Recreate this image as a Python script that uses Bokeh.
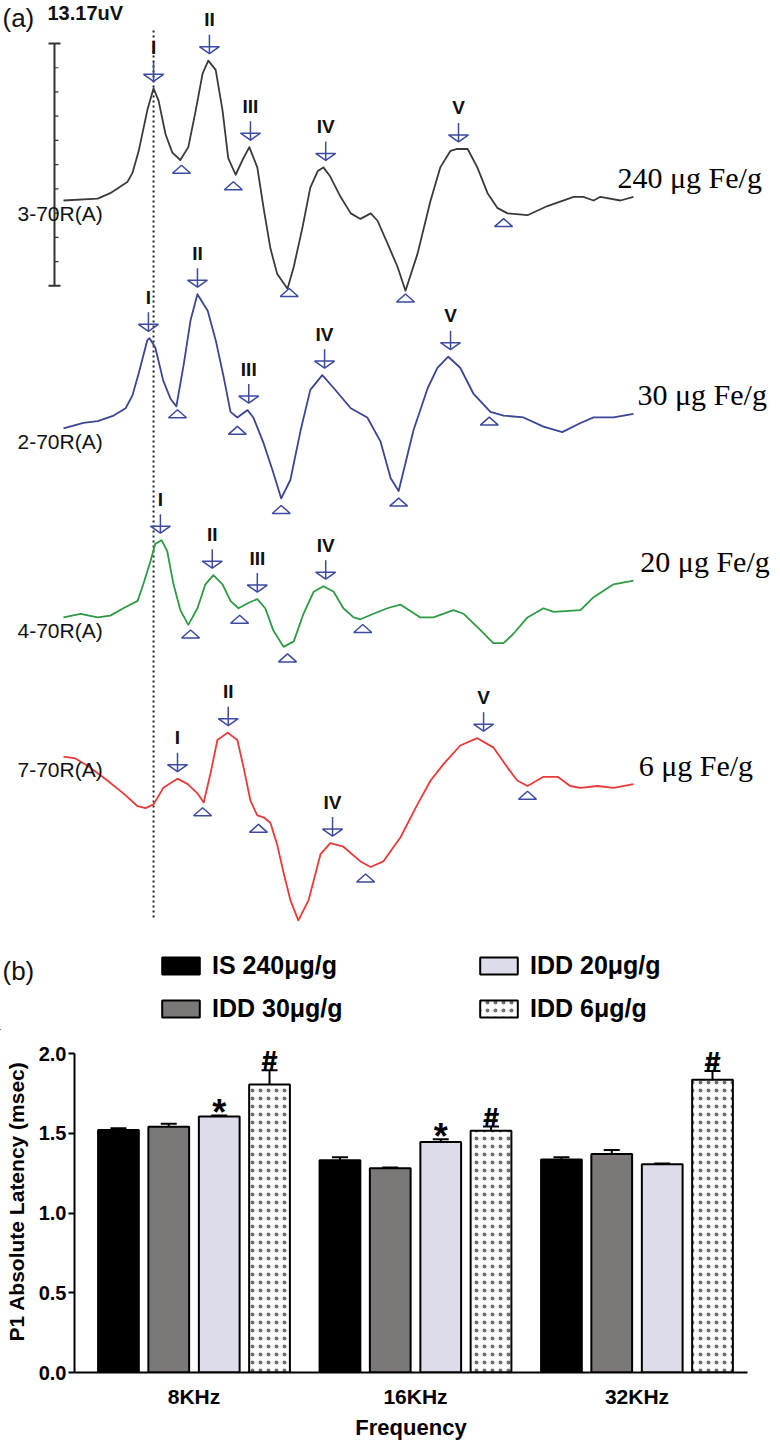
from bokeh.plotting import figure
from bokeh.models import Range1d, Legend, LegendItem, FixedTicker, NumeralTickFormatter
from bokeh.core.properties import value
from bokeh.embed import file_html
from bokeh.resources import INLINE

SANS = "Liberation Sans"
SERIF = "Liberation Serif"

# ---------------- Panel (a): ABR waveforms (time in ms, amplitude in uV) ----------------
t_240 = [0, 0.60, 0.82, 1.12, 1.21, 1.32, 1.47, 1.58, 1.67, 1.79, 1.91, 2.05, 2.19, 2.32, 2.44, 2.54,
         2.67, 2.79, 2.89, 3.02, 3.14, 3.26, 3.40, 3.51, 3.63, 3.75, 3.93, 4.04, 4.19, 4.33, 4.46, 4.56,
         4.68, 4.86, 5.04, 5.21, 5.39, 5.51, 5.68, 5.86, 6.00, 6.21, 6.44, 6.61, 6.79, 6.91, 7.09, 7.26,
         7.44, 7.61, 7.79, 8.14, 8.49, 8.95, 9.12, 9.30, 9.42, 9.77, 10.00]
a_240 = [0, 0.1, 0.4, 1.0, 1.5, 2.7, 4.9, 6.1, 5.4, 3.6, 2.6, 2.2, 2.9, 4.9, 6.9, 7.6,
         7.1, 4.9, 2.3, 1.4, 2.2, 2.9, 1.8, -0.4, -2.6, -4.0, -4.8, -3.6, -1.5, 0.7, 1.6, 1.8,
         1.3, 0.2, -0.7, -1.0, -0.7, -1.1, -2.3, -3.6, -4.9, -2.9, 0, 1.8, 2.7, 2.8, 2.8, 1.8,
         0.4, -0.4, -0.7, -0.8, -0.3, 0.2, 0.2, 0, 0.2, 0, 0.2]

t_30 = [0, 0.35, 0.60, 0.88, 1.09, 1.21, 1.32, 1.47, 1.51, 1.61, 1.75, 1.88, 1.98, 2.11, 2.23, 2.35,
        2.53, 2.67, 2.81, 2.93, 3.05, 3.23, 3.33, 3.51, 3.67, 3.82, 3.98, 4.16, 4.33, 4.54, 4.74, 5.04,
        5.33, 5.56, 5.74, 5.88, 6.14, 6.39, 6.56, 6.75, 6.96, 7.19, 7.49, 7.72, 8.07, 8.42, 8.75, 9.07,
        9.30, 9.65, 10.00]
a_30 = [0, 0.3, 0.4, 0.7, 1.1, 1.8, 3.0, 4.8, 4.9, 4.4, 2.6, 1.6, 1.2, 3.5, 5.9, 7.3,
        6.4, 4.8, 2.8, 0.9, 0.6, 1.0, 0.6, -0.8, -2.3, -3.8, -2.8, -0.1, 2.1, 2.9, 2.2, 1.1,
        0.6, -0.7, -2.7, -3.4, -0.1, 2.2, 3.3, 3.9, 3.3, 1.9, 0.9, 0.7, 0.6, 0.1, -0.2, 0.3,
        0.6, 0.6, 0.8]

t_20 = [0, 0.30, 0.60, 0.82, 1.05, 1.30, 1.40, 1.53, 1.61, 1.72, 1.82, 1.93, 2.05, 2.19, 2.35, 2.49,
        2.63, 2.79, 2.93, 3.07, 3.25, 3.40, 3.54, 3.68, 3.86, 4.04, 4.21, 4.39, 4.56, 4.74, 4.91, 5.09,
        5.21, 5.44, 5.68, 5.91, 6.26, 6.49, 6.84, 7.02, 7.32, 7.54, 7.72, 7.89, 8.14, 8.42, 8.60, 9.07,
        9.30, 9.65, 10.00]
a_20 = [0, 0.2, 0, 0.1, 0.5, 0.9, 1.8, 3.1, 4.0, 4.2, 3.6, 1.8, 0.4, -0.4, 0.5, 1.8,
        2.3, 1.8, 0.9, 0.5, 0.8, 1.0, 0.5, -0.7, -1.6, -1.3, 0.2, 1.4, 1.7, 1.4, 0.5, 0,
        -0.1, 0.2, 0.5, 0.7, 0, 0, 0.4, 0.2, -0.7, -1.4, -1.4, -0.9, 0, 0.5, 0.3, 0.4,
        1.1, 1.8, 2.0]

t_6 = [0, 0.21, 0.47, 0.77, 1.05, 1.30, 1.44, 1.58, 1.75, 2.00, 2.18, 2.35, 2.46, 2.58, 2.70, 2.88,
       3.05, 3.16, 3.28, 3.40, 3.51, 3.63, 3.75, 3.86, 3.98, 4.12, 4.30, 4.51, 4.68, 4.91, 5.21, 5.39,
       5.61, 5.91, 6.21, 6.44, 6.67, 6.96, 7.26, 7.54, 7.79, 7.96, 8.14, 8.42, 8.67, 8.89, 9.07, 9.37,
       9.65, 10.00]
a_6 = [0, -0.1, -0.6, -1.3, -2.0, -2.7, -2.8, -2.6, -1.7, -1.2, -1.5, -2.0, -2.5, -0.9, 0.9, 1.3,
       0.9, -0.6, -2.4, -3.2, -3.3, -3.6, -4.8, -6.3, -7.8, -8.9, -7.8, -5.3, -4.7, -4.9, -5.7, -6.0,
       -5.7, -4.4, -2.6, -1.3, -0.4, 0.6, 1.0, 0.5, -0.6, -1.3, -1.6, -1.1, -1.1, -1.6, -1.7, -1.6,
       -1.7, -1.5]

# Peaks (arrow + roman numeral)
peak_labels_240 = ["I", "II", "III", "IV", "V"]
peak_t_240 = [1.58, 2.56, 3.28, 4.60, 6.93]
peak_a_240 = [6.1, 7.6, 2.9, 1.8, 2.8]
peak_labels_30 = ["I", "II", "III", "IV", "V"]
peak_t_30 = [1.49, 2.35, 3.25, 4.58, 6.79]
peak_a_30 = [4.9, 7.3, 1.0, 2.9, 3.9]
peak_labels_20 = ["I", "II", "III", "IV"]
peak_t_20 = [1.70, 2.61, 3.40, 4.60]
peak_a_20 = [4.2, 2.3, 1.0, 1.7]
peak_labels_6 = ["I", "II", "IV", "V"]
peak_t_6 = [2.00, 2.89, 4.72, 7.37]
peak_a_6 = [-1.2, 1.3, -4.7, 1.0]

# Troughs (open triangle markers)
trough_t_240 = [2.07, 2.98, 3.96, 6.00, 7.72]
trough_a_240 = [1.7, 0.8, -5.0, -5.3, -1.2]
trough_t_30 = [2.00, 3.05, 3.82, 5.88, 7.47]
trough_a_30 = [0.8, -0.1, -4.4, -4.0, 0.4]
trough_t_20 = [2.23, 3.09, 3.93, 5.25]
trough_a_20 = [-0.9, -0.1, -2.2, -0.6]
trough_t_6 = [2.44, 3.42, 5.30, 8.14]
trough_a_6 = [-3.0, -3.9, -6.6, -2.1]

record_ids = ["3-70R(A)", "2-70R(A)", "4-70R(A)", "7-70R(A)"]
dose_labels = ["240 \u03bcg Fe/g", "30 \u03bcg Fe/g", "20 \u03bcg Fe/g", "6 \u03bcg Fe/g"]
scale_bar_uV = 13.17
scale_bar_label = "13.17uV"

# ---------------- Panel (b): P1 absolute latency ----------------
frequencies = ["8KHz", "16KHz", "32KHz"]
groups = ["IS 240\u03bcg/g", "IDD 30\u03bcg/g", "IDD 20\u03bcg/g", "IDD 6\u03bcg/g"]
mean_is240 = [1.52, 1.33, 1.335]
mean_idd30 = [1.54, 1.28, 1.37]
mean_idd20 = [1.605, 1.445, 1.305]
mean_idd6 = [1.805, 1.515, 1.835]
sem_is240 = [0.012, 0.02, 0.015]
sem_idd30 = [0.02, 0.006, 0.025]
sem_idd20 = [0.006, 0.017, 0.006]
sem_idd6 = [0.09, 0.027, 0.055]
sig_idd20 = ["*", "*", ""]
sig_idd6 = ["#", "#", "#"]

W = 780
HA = 1030
HB = 413

bar_fills = ["#000000", "#7d7878", "#dcdcea", "#ffffff"]
hatch_kw = dict(hatch_pattern="dot", hatch_color="#111111", hatch_scale=8, hatch_weight=0.8,
                hatch_alpha=0.6)

# ======================= PANEL (a) =======================
XA0, XA1 = -63 / 57, 717 / 57
YA0, YA1 = -HA / 18.4, 0.0
pa = figure(width=W, height=HA, x_range=Range1d(XA0, XA1), y_range=Range1d(YA0, YA1),
            x_axis_location=None, y_axis_location=None, output_backend="svg",
            toolbar_location=None, min_border=0)
pa.outline_line_color = None
pa.xgrid.visible = False
pa.ygrid.visible = False
ppx = W / (XA1 - XA0)
ppy = HA / (YA1 - YA0)

offsets = [-10.87, -23.26, -33.53, -41.09]
trace_colors = ["#3a3a3a", "#3b4594", "#2f9a45", "#e83a3a"]
dose_x = [9.72, 10.07, 10.12, 10.09]
MARK = "#3c4aa0"

traces = [
    (t_240, a_240, peak_labels_240, peak_t_240, peak_a_240, trough_t_240, trough_a_240),
    (t_30, a_30, peak_labels_30, peak_t_30, peak_a_30, trough_t_30, trough_a_30),
    (t_20, a_20, peak_labels_20, peak_t_20, peak_a_20, trough_t_20, trough_a_20),
    (t_6, a_6, peak_labels_6, peak_t_6, peak_a_6, trough_t_6, trough_a_6),
]

# dotted reference line at wave I latency of the control
ref_t = peak_t_240[0]
pa.segment(x0=[ref_t], y0=[-30 / ppy], x1=[ref_t], y1=[-920 / ppy],
           line_color="#222222", line_width=2, line_dash="2 3")

# scale bar
sb_x = -0.158
sb_top = -43 / ppy
sb_bot = sb_top - scale_bar_uV
pa.segment(x0=[sb_x], y0=[sb_top], x1=[sb_x], y1=[sb_bot], line_color="#333333", line_width=2)
pa.segment(x0=[sb_x - 6 / ppx] * 2, y0=[sb_top, sb_bot], x1=[sb_x + 6 / ppx] * 2, y1=[sb_top, sb_bot],
           line_color="#333333", line_width=2)
tick_y = [sb_top - scale_bar_uV * k / 10 for k in range(1, 10)]
pa.segment(x0=[sb_x] * 9, y0=tick_y, x1=[sb_x + 4 / ppx] * 9, y1=tick_y, line_color="#333333", line_width=1.2)

pa.text(x=[sb_x - 7 / ppx], y=[-12 / ppy], text=[scale_bar_label], text_font=value(SANS),
        text_font_size="20px", text_font_style="bold", text_baseline="middle", text_align="left",
        text_color="#111111")
pa.text(x=[XA0 + 2 / ppx], y=[-17 / ppy], text=["(a)"], text_font=value(SANS), text_font_size="26px",
        text_baseline="middle", text_align="left", text_color="#111111")

for i, (t, a, pl, pt, pam, tt, ta) in enumerate(traces):
    off = offsets[i]
    pa.line(x=t, y=[v + off for v in a], line_color=trace_colors[i], line_width=1.8, line_join="round")
    # record id and dose labels
    pa.text(x=[XA0 + 17 / ppx], y=[a[0] + off - 13 / ppy], text=[record_ids[i]], text_font=value(SANS),
            text_font_size="21px", text_baseline="middle", text_align="left", text_color="#111111")
    pa.text(x=[dose_x[i]], y=[a[-1] + off + 19 / ppy], text=[dose_labels[i]], text_font=value(SERIF),
            text_font_size="30px", text_baseline="middle", text_align="left", text_color="#000000")
    # arrows at peaks
    tips = [v + off + 7 / ppy for v in pam]
    pa.segment(x0=pt, y0=tips, x1=pt, y1=[y + 19 / ppy for y in tips], line_color=MARK, line_width=1.5)
    pa.patches(xs=[[x - 10 / ppx, x + 10 / ppx, x] for x in pt],
               ys=[[y + 7 / ppy, y + 7 / ppy, y] for y in tips],
               fill_alpha=0, line_color=MARK, line_width=1.5)
    pa.text(x=pt, y=[v + off + 41 / ppy for v in pam], text=pl, text_font=value(SANS),
            text_font_size="19px", text_font_style="bold", text_align="center", text_baseline="middle",
            text_color="#111111")
    # troughs
    pa.patches(xs=[[x - 9 / ppx, x + 9 / ppx, x] for x in tt],
               ys=[[v + off - 4 / ppy, v + off - 4 / ppy, v + off + 4 / ppy] for v in ta],
               fill_color="white", line_color=MARK, line_width=1.5)

# panel (b) tag and legend (legend swatches share the bar styles of panel b;
# the swatch renderers sit outside the visible range so only the legend shows them)
pa.text(x=[XA0 + 2 / ppx], y=[-970 / ppy], text=["(b)"], text_font=value(SANS), text_font_size="26px",
        text_baseline="middle", text_align="left", text_color="#111111")
proxies = []
for j in range(4):
    kw = dict(fill_color=bar_fills[j], line_color="#000000", line_width=2)
    if j == 3:
        kw.update(hatch_kw)
    proxies.append(pa.vbar(x=[XA0 - 100], top=[YA0 - 100], width=0.5, bottom=YA0 - 101, **kw))
for cols, lx in (((0, 1), 157), ((2, 3), 475)):
    leg = Legend(items=[LegendItem(label=groups[c], renderers=[proxies[c]]) for c in cols],
                 location=(lx, 7), orientation="vertical", glyph_width=47, glyph_height=21,
                 label_height=21, spacing=14, label_standoff=8, padding=0, margin=0,
                 border_line_color=None, background_fill_alpha=0,
                 label_text_font=SANS, label_text_font_size="25px", label_text_font_style="bold",
                 label_text_color="#000000")
    pa.add_layout(leg)

# ======================= PANEL (b) =======================
XB0, XB1 = 0.4605, 3.499
MB_L, MB_R, MB_B = 74, 33, 71
YB1 = (HB - MB_B) / 159.5
pb = figure(width=W, height=HB, x_range=Range1d(XB0, XB1), y_range=Range1d(0, YB1),
            output_backend="svg", toolbar_location=None,
            min_border_left=MB_L, min_border_right=MB_R, min_border_top=0, min_border_bottom=MB_B)
pb.outline_line_color = None
pb.xgrid.visible = False
pb.ygrid.visible = False
ppyb = (HB - MB_B) / YB1
ppxb = (W - MB_L - MB_R) / (XB1 - XB0)

bar_offsets = [-0.341, -0.114, 0.114, 0.341]
bar_width = 0.184
means = [mean_is240, mean_idd30, mean_idd20, mean_idd6]
sems = [sem_is240, sem_idd30, sem_idd20, sem_idd6]
for j in range(4):
    xs = [k + 1 + bar_offsets[j] for k in range(len(frequencies))]
    kw = dict(fill_color=bar_fills[j], line_color="#000000", line_width=2)
    if j == 3:
        kw.update(hatch_kw)
    pb.vbar(x=xs, top=means[j], width=bar_width, bottom=0, **kw)
    tops = [m + s for m, s in zip(means[j], sems[j])]
    pb.segment(x0=xs, y0=means[j], x1=xs, y1=tops, line_color="#000000", line_width=2)
    cap = 8 / ppxb
    pb.segment(x0=[x - cap for x in xs], y0=tops, x1=[x + cap for x in xs], y1=tops,
               line_color="#000000", line_width=2)
    if j == 2:
        pb.text(x=xs, y=[v + 3 / ppyb for v in tops], text=sig_idd20, text_font=value(SANS),
                text_font_size="36px", text_font_style="bold", text_align="center",
                text_baseline="alphabetic", text_color="#000000")
    if j == 3:
        pb.text(x=xs, y=[v + 9 / ppyb for v in tops], text=sig_idd6, text_font=value("Inter"),
                text_font_size="25px", text_font_style="bold", text_align="center",
                text_baseline="alphabetic", text_color="#000000")

# axes
ya = pb.yaxis[0]
ya.ticker = FixedTicker(ticks=[0, 0.5, 1.0, 1.5, 2.0])
ya.formatter = NumeralTickFormatter(format="0.0")
ya.bounds = (0, 2.0)
ya.minor_tick_line_color = None
ya.major_tick_in = 0
ya.major_tick_out = 6
ya.major_tick_line_width = 2
ya.axis_line_width = 2
ya.major_label_standoff = 2
ya.major_label_text_font = SANS
ya.major_label_text_font_size = "20px"
ya.major_label_text_font_style = "bold"
ya.major_label_text_color = "#000000"
ya.axis_label = "P1 Absolute Latency (msec)"
ya.axis_label_text_font = SANS
ya.axis_label_text_font_size = "21px"
ya.axis_label_text_font_style = "bold"
ya.axis_label_text_color = "#000000"
ya.axis_label_standoff = 8

xa = pb.xaxis[0]
xa.ticker = FixedTicker(ticks=[1, 2, 3])
xa.major_label_overrides = {1: frequencies[0], 2: frequencies[1], 3: frequencies[2]}
xa.minor_tick_line_color = None
xa.major_tick_line_color = None
xa.major_tick_in = 0
xa.major_tick_out = 0
xa.axis_line_width = 2
xa.major_label_standoff = 12
xa.major_label_text_font = SANS
xa.major_label_text_font_size = "21px"
xa.major_label_text_font_style = "bold"
xa.major_label_text_color = "#000000"
xa.axis_label = "Frequency"
xa.axis_label_text_font = SANS
xa.axis_label_text_font_size = "22px"
xa.axis_label_text_font_style = "bold"
xa.axis_label_text_color = "#000000"
xa.axis_label_standoff = 4

open("out.html", "w").write(file_html([pa, pb], INLINE, "ABR"))
